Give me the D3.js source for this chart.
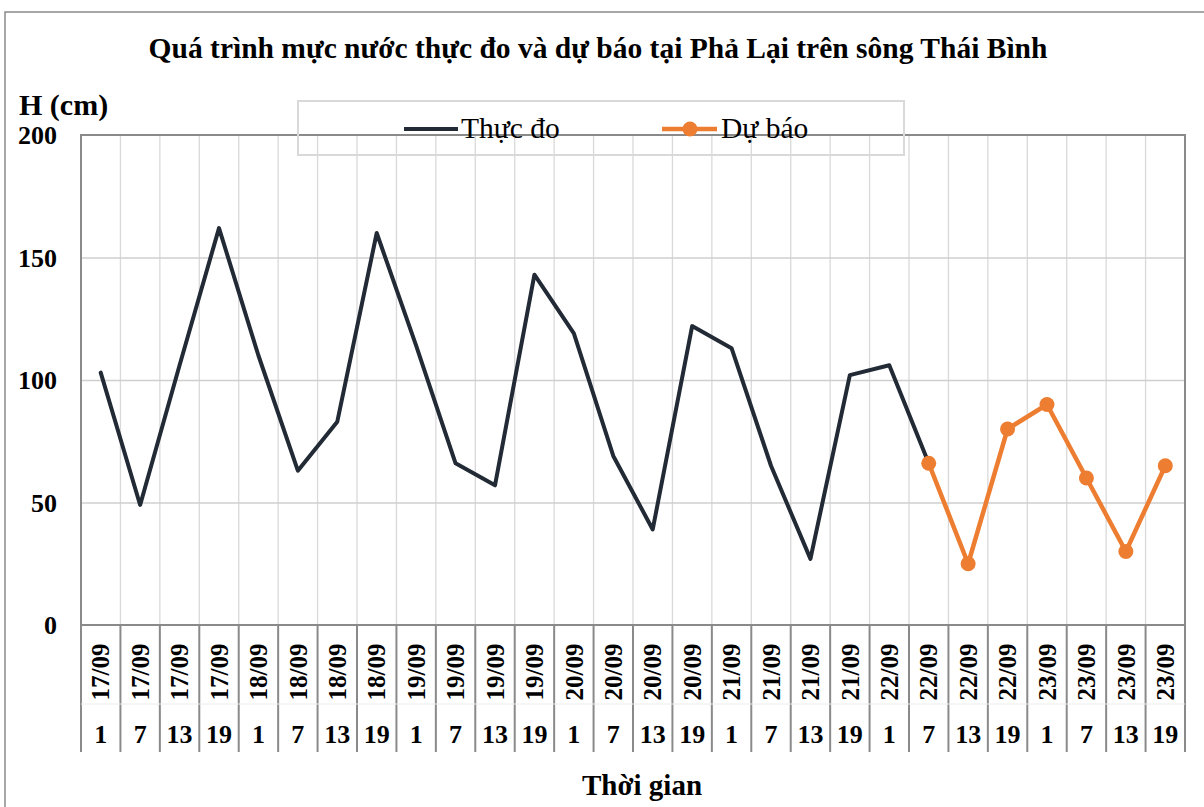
<!DOCTYPE html>
<html><head><meta charset="utf-8">
<script src="https://cdn.jsdelivr.net/npm/d3@7"></script>
<style>
html,body{margin:0;padding:0;background:#fff;}
svg{display:block;font-family:"Liberation Serif","Times New Roman",serif;}
</style></head>
<body><svg id="c" width="1204" height="807"></svg>
<script>
const dateLabels = ["17/09","17/09","17/09","17/09","18/09","18/09","18/09","18/09","19/09","19/09","19/09","19/09","20/09","20/09","20/09","20/09","21/09","21/09","21/09","21/09","22/09","22/09","22/09","22/09","23/09","23/09","23/09","23/09"];
const hourLabels = ["1","7","13","19","1","7","13","19","1","7","13","19","1","7","13","19","1","7","13","19","1","7","13","19","1","7","13","19"];
const observed = [103,49,106,162,110,63,83,160,114,66,57,143,119,69,39,122,113,65,27,102,106,66,null,null,null,null,null,null];
const forecast = [null,null,null,null,null,null,null,null,null,null,null,null,null,null,null,null,null,null,null,null,null,66,25,80,90,60,30,65];
const yTicks = [0,50,100,150,200];
const seriesNames = ["Thực đo","Dự báo"];
const titleText = "Quá trình mực nước thực đo và dự báo tại Phả Lại trên sông Thái Bình";

const svg = d3.select("#c");
const L = 81, R = 1185, T = 135, B = 625;
const idx = d3.range(dateLabels.length);
const x = d3.scaleBand().domain(idx).range([L, R]).padding(0);
const y = d3.scaleLinear().domain([0, 200]).range([B, T]);
const cx = i => x(i) + x.bandwidth() / 2;
const dark = "#222a35", orange = "#ED7D31";

// outer chart border
svg.append("rect").attr("x", 5).attr("y", 12).attr("width", 1230).attr("height", 830)
  .attr("fill", "none").attr("stroke", "#8a8a8a").attr("stroke-width", 1.5);

// vertical gridlines at category boundaries
svg.append("g").selectAll("line").data(idx.slice(1)).join("line")
  .attr("x1", i => x(i)).attr("x2", i => x(i)).attr("y1", T).attr("y2", B)
  .attr("stroke", "#d9d9d9").attr("stroke-width", 1.3);

// horizontal gridlines via axis
const yg = svg.append("g").attr("transform", `translate(${L},0)`)
  .call(d3.axisLeft(y).tickValues(yTicks.slice(1, -1)).tickSize(-(R - L)).tickFormat(""));
yg.select(".domain").remove();
yg.selectAll("line").attr("stroke", "#cfcfcf").attr("stroke-width", 1.3);

// y tick labels
const yl = svg.append("g").attr("transform", `translate(57,0)`)
  .call(d3.axisLeft(y).tickValues(yTicks).tickSize(0).tickPadding(0));
yl.select(".domain").remove();
yl.selectAll("text").attr("font-family", "Liberation Serif").attr("font-size", 26)
  .attr("font-weight", "bold").attr("fill", "#000").attr("dy", "0.33em");

// x axis category separators
svg.append("g").selectAll("line").data(d3.range(dateLabels.length + 1)).join("line")
  .attr("x1", i => i < dateLabels.length ? x(i) : R).attr("x2", i => i < dateLabels.length ? x(i) : R)
  .attr("y1", B).attr("y2", 752)
  .attr("stroke", "#8a8a8a").attr("stroke-width", 2);
svg.append("line").attr("x1", L).attr("x2", R).attr("y1", 704).attr("y2", 704)
  .attr("stroke", "#ececec").attr("stroke-width", 1);

// date labels (rotated) via axis
const xd = svg.append("g").attr("transform", `translate(0,${B})`)
  .call(d3.axisBottom(x).tickSize(0).tickFormat(i => dateLabels[i]));
xd.select(".domain").remove();
xd.selectAll("text")
  .attr("font-family", "Liberation Serif").attr("font-size", 25).attr("font-weight", "bold").attr("fill", "#000")
  .attr("transform", "translate(0,47) rotate(-90)")
  .attr("x", 0).attr("y", 0).attr("dy", "0.35em").attr("text-anchor", "middle");

// hour labels via axis
const xh = svg.append("g").attr("transform", `translate(0,743)`)
  .call(d3.axisBottom(x).tickSize(0).tickPadding(0).tickFormat(i => hourLabels[i]));
xh.select(".domain").remove();
xh.selectAll("text")
  .attr("font-family", "Liberation Serif").attr("font-size", 26).attr("font-weight", "bold").attr("fill", "#000")
  .attr("y", 0).attr("dy", 0);

// plot border
svg.append("rect").attr("x", L).attr("y", T).attr("width", R - L).attr("height", B - T)
  .attr("fill", "none").attr("stroke", "#8a8a8a").attr("stroke-width", 2);

// lines
const line = d3.line().defined(d => d.v != null).x(d => cx(d.i)).y(d => y(d.v));
const obsData = observed.map((v, i) => ({i, v}));
const fcData = forecast.map((v, i) => ({i, v}));
svg.append("path").datum(obsData).attr("d", line).attr("fill", "none")
  .attr("stroke", dark).attr("stroke-width", 4).attr("stroke-linejoin", "round").attr("stroke-linecap", "round");
svg.append("path").datum(fcData).attr("d", line).attr("fill", "none")
  .attr("stroke", orange).attr("stroke-width", 4.5).attr("stroke-linejoin", "round");
svg.append("g").selectAll("circle").data(fcData.filter(d => d.v != null)).join("circle")
  .attr("cx", d => cx(d.i)).attr("cy", d => y(d.v)).attr("r", 7.5).attr("fill", orange);

// title
svg.append("text").attr("x", 598).attr("y", 57.5).attr("text-anchor", "middle")
  .attr("font-size", 29.5).attr("font-weight", "bold").text(titleText);
// y axis title
svg.append("text").attr("x", 19).attr("y", 115).attr("font-size", 30).attr("font-weight", "bold").text("H (cm)");
// x axis title
svg.append("text").attr("x", 642).attr("y", 795).attr("text-anchor", "middle")
  .attr("font-size", 29).attr("font-weight", "bold").text("Thời gian");

// legend
const lg = svg.append("g");
lg.append("rect").attr("x", 298).attr("y", 101).attr("width", 606).attr("height", 54)
  .attr("fill", "none").attr("stroke", "#d9d9d9").attr("stroke-width", 2);
lg.append("line").attr("x1", 404).attr("x2", 458).attr("y1", 129).attr("y2", 129)
  .attr("stroke", dark).attr("stroke-width", 4);
lg.append("text").attr("x", 461).attr("y", 138).attr("font-size", 29.5).text(seriesNames[0]);
lg.append("line").attr("x1", 662).attr("x2", 717).attr("y1", 129).attr("y2", 129)
  .attr("stroke", orange).attr("stroke-width", 4.5);
lg.append("circle").attr("cx", 690).attr("cy", 129).attr("r", 7.5).attr("fill", orange);
lg.append("text").attr("x", 721).attr("y", 138).attr("font-size", 29.5).text(seriesNames[1]);
</script></body></html>
